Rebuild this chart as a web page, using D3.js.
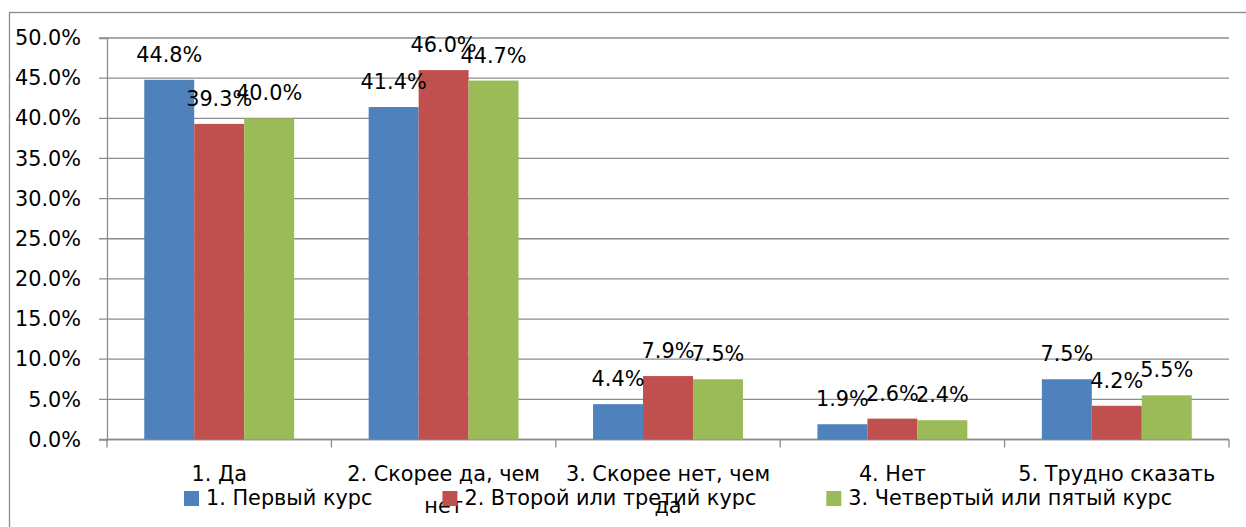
<!DOCTYPE html>
<html>
<head>
<meta charset="utf-8">
<script src="https://cdn.jsdelivr.net/npm/d3@7"></script>
<style>
  body { margin: 0; background: #fff; }
  svg { display: block; font-family: "DejaVu Sans", sans-serif; }
</style>
</head>
<body>
<svg id="chart" width="1246" height="527"></svg>
<script>
// Данные
const categories = ["1. Да", "2. Скорее да, чем нет", "3. Скорее нет, чем да", "4. Нет", "5. Трудно сказать"];
const seriesNames = ["1. Первый курс", "2. Второй или третий курс", "3. Четвертый или пятый курс"];
const seriesColors = ["#4F81BD", "#C0504D", "#9BBB59"];
const firstYear = [44.8, 41.4, 4.4, 1.9, 7.5];
const secondThird = [39.3, 46.0, 7.9, 2.6, 4.2];
const fourthFifth = [40.0, 44.7, 7.5, 2.4, 5.5];
const yTicks = [0, 5, 10, 15, 20, 25, 30, 35, 40, 45, 50];

// wrapped category labels as in the picture
const catLines = [["1. Да"], ["2. Скорее да, чем", "нет"], ["3. Скорее нет, чем", "да"], ["4. Нет"], ["5. Трудно сказать"]];

const seriesValues = [firstYear, secondThird, fourthFifth];
const data = categories.map((c, i) => ({
  cat: c,
  values: seriesValues.map((s, j) => ({ key: seriesNames[j], value: s[i], color: seriesColors[j] }))
}));

const fontSize = 20.8;
const margin = { top: 38, left: 107, right: 1229, bottom: 439.5 };

const svg = d3.select("#chart");

// рамка диаграммы
svg.append("rect")
  .attr("x", 9.5).attr("y", 12.5)
  .attr("width", 1300).attr("height", 600)
  .attr("fill", "none")
  .attr("stroke", "#8c8c8c")
  .attr("stroke-width", 1.3);

const y = d3.scaleLinear().domain([0, 50]).range([margin.bottom, margin.top]);
const x0 = d3.scaleBand().domain(categories).range([margin.left, margin.right]).paddingInner(0.332).paddingOuter(0.166);
const x1 = d3.scaleBand().domain(seriesNames).range([0, x0.bandwidth()]);

// сетка
svg.append("g")
  .selectAll("line")
  .data(yTicks)
  .join("line")
  .attr("x1", margin.left - 8)
  .attr("x2", margin.right)
  .attr("y1", (d) => y(d))
  .attr("y2", (d) => y(d))
  .attr("stroke", "#8c8c8c")
  .attr("stroke-width", 1.3);

// ось Y
const yAxis = svg.append("g")
  .attr("transform", `translate(${margin.left},0)`)
  .call(d3.axisLeft(y).tickValues(yTicks).tickFormat((d) => d.toFixed(1) + "%").tickSize(8).tickPadding(18));
yAxis.select(".domain").attr("stroke", "#8c8c8c").attr("stroke-width", 1.3);
yAxis.selectAll(".tick line").remove();
yAxis.selectAll(".tick text")
  .attr("fill", "#000")
  .style("font-size", fontSize + "px")
  .style("font-family", "DejaVu Sans, sans-serif");

// ось X: деления на границах категорий
const boundaries = d3.range(categories.length + 1).map((i) => margin.left + i * x0.step());
svg.append("g")
  .selectAll("line")
  .data(boundaries)
  .join("line")
  .attr("x1", (d) => d)
  .attr("x2", (d) => d)
  .attr("y1", margin.bottom)
  .attr("y2", margin.bottom + 8)
  .attr("stroke", "#8c8c8c")
  .attr("stroke-width", 1.3);
svg.append("line")
  .attr("x1", margin.left).attr("x2", margin.right)
  .attr("y1", margin.bottom).attr("y2", margin.bottom)
  .attr("stroke", "#8c8c8c").attr("stroke-width", 1.3);

// столбцы
const groups = svg.append("g")
  .selectAll("g")
  .data(data)
  .join("g")
  .attr("transform", (d) => `translate(${x0(d.cat)},0)`);

groups.selectAll("rect")
  .data((d) => d.values)
  .join("rect")
  .attr("x", (d) => x1(d.key))
  .attr("y", (d) => y(d.value))
  .attr("width", x1.bandwidth())
  .attr("height", (d) => y(0) - y(d.value))
  .attr("fill", (d) => d.color);

// подписи значений
groups.selectAll("text")
  .data((d) => d.values)
  .join("text")
  .attr("x", (d) => x1(d.key) + x1.bandwidth() / 2)
  .attr("y", (d) => y(d.value) - 18)
  .attr("text-anchor", "middle")
  .style("font-size", fontSize + "px")
  .text((d) => d.value.toFixed(1) + "%");

// подписи категорий
const catLabels = svg.append("g")
  .selectAll("text")
  .data(categories)
  .join("text")
  .attr("x", (d) => x0(d) + x0.bandwidth() / 2)
  .attr("y", 481)
  .attr("text-anchor", "middle")
  .style("font-size", fontSize + "px");
catLabels.selectAll("tspan")
  .data((d, i) => catLines[i])
  .join("tspan")
  .attr("x", function () { return this.parentNode.getAttribute("x"); })
  .attr("dy", (d, i) => (i === 0 ? 0 : 32))
  .text((d) => d);

// легенда
const legend = svg.append("g");
let lx = 184;
seriesNames.forEach((name, i) => {
  legend.append("rect")
    .attr("x", lx).attr("y", 491)
    .attr("width", 15).attr("height", 15)
    .attr("fill", seriesColors[i]);
  const t = legend.append("text")
    .attr("x", lx + 22)
    .attr("y", 505)
    .style("font-size", fontSize + "px")
    .text(name);
  lx += 22 + t.node().getComputedTextLength() + 70;
});
</script>
</body>
</html>
